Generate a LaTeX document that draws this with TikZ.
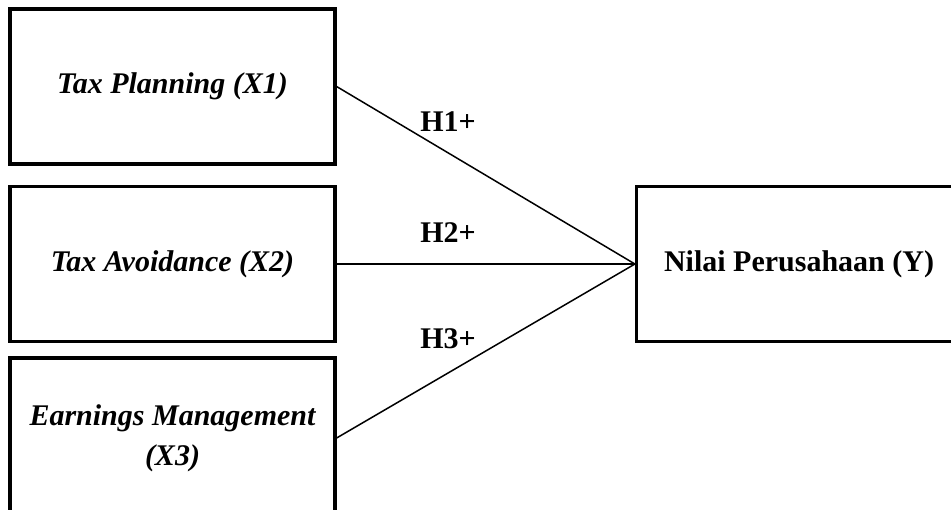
\documentclass[tikz,border=0pt]{standalone}
\usepackage{fontspec}
\setmainfont{Liberation Serif}
\usetikzlibrary{math}

\tikzset{
  varbox/.style={draw, line width=1.6pt, minimum width=162.5pt,
    minimum height=77.5pt, inner sep=0pt, align=center,
    font=\fontsize{15}{20}\selectfont\bfseries\itshape},
  depbox/.style={varbox, font=\fontsize{15}{20}\selectfont\bfseries},
  hyp/.style={inner sep=0pt, font=\fontsize{15}{18}\selectfont\bfseries},
}

\begin{document}
\begin{tikzpicture}[x=0.5pt,y=-0.5pt,line width=0.75pt]

  \tikzmath{
    \leftx  = 172.5; % centre of the left column
    \rightx = 799;   % centre of the dependent box
    \midy   = 264;   % height of the dependent variable
    \labx   = 448;   % column of the hypothesis labels
  }

  % page size of the reference, boxes run off the edges
  \useasboundingbox (0,0) rectangle (951,509);
  \clip (0,0) rectangle (951,509);

  % independent variables
  \node[varbox] (tp) at (\leftx, 86.5) {Tax Planning (X1)};
  \node[varbox] (ta) at (\leftx, \midy) {Tax Avoidance (X2)};
  \node[varbox, minimum height=80pt] (em) at (\leftx, 438)
    {Earnings Management\\(X3)};

  % dependent variable
  \node[depbox] (ny) at (\rightx, \midy) {Nilai Perusahaan (Y)};

  % paths
  \draw (tp.east) -- (ny.west);
  \draw (ta.east) -- (ny.west);
  \draw (em.east) -- (ny.west);

  % hypotheses
  \node[hyp] (h1) at (\labx, 122) {H1+};
  \node[hyp] (h2) at (\labx, 233) {H2+};
  \node[hyp] (h3) at (\labx, 339) {H3+};

\end{tikzpicture}
\end{document}
